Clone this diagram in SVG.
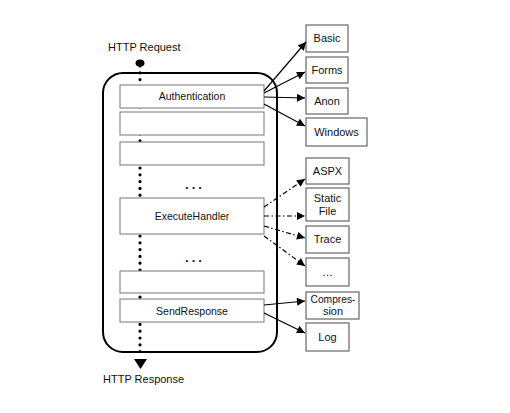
<svg xmlns="http://www.w3.org/2000/svg" width="510" height="413" viewBox="0 0 510 413">
<defs>
<marker id="ah" viewBox="0 0 10 10" refX="10" refY="5" markerWidth="9" markerHeight="8" markerUnits="userSpaceOnUse" orient="auto">
<path d="M0,0 L10,5 L0,10 z" fill="#000"/>
</marker>
<style>
text{font-family:"Liberation Sans",Arial,sans-serif;font-size:10.5px;fill:#111;text-anchor:middle}
.lbl{font-size:11px;text-anchor:start}
.r{font-size:11px}
.ell{font-size:13px;font-weight:bold;letter-spacing:3px}
.box{fill:#fff;stroke:#777;stroke-width:1}
.rbox{fill:#fff;stroke:#666;stroke-width:1.2}
.solid{stroke:#000;stroke-width:1.2;fill:none;marker-end:url(#ah)}
.dash{stroke:#000;stroke-width:1.2;fill:none;stroke-dasharray:5 2.5 1.5 2.5;marker-end:url(#ah)}
</style>
</defs>
<rect width="510" height="413" fill="#fff"/>
<text class="lbl" x="108" y="51">HTTP Request</text>
<text class="lbl" x="103" y="383">HTTP Response</text>
<g id="pipeline">
<rect x="103" y="73" width="174" height="279" rx="20" ry="20" fill="#fff" stroke="#000" stroke-width="2"/>
<line x1="140" y1="66" x2="140" y2="358" stroke="#000" stroke-width="3.2" stroke-linecap="round" stroke-dasharray="0 6.8"/>
<ellipse cx="140" cy="63" rx="4.5" ry="3.5" fill="#000"/>
<path d="M134,359 L147,359 L140.5,369 z" fill="#000"/>
</g>
<g id="authentication"><rect class="box" x="120" y="85" width="144" height="23"/><text x="192" y="100">Authentication</text></g>
<g id="step2"><rect class="box" x="120" y="112" width="144" height="23"/></g>
<g id="step3"><rect class="box" x="120" y="142" width="144" height="23"/></g>
<text class="ell" x="195" y="189">...</text>
<g id="executehandler"><rect class="box" x="120" y="198" width="144" height="36"/><text x="192" y="220">ExecuteHandler</text></g>
<text class="ell" x="195" y="262">...</text>
<g id="step5"><rect class="box" x="120" y="271" width="144" height="22"/></g>
<g id="sendresponse"><rect class="box" x="120" y="299" width="144" height="23"/><text x="192" y="315">SendResponse</text></g>

<g id="basic"><rect class="rbox" x="306" y="25" width="42" height="27"/><text class="r" x="327" y="42">Basic</text></g>
<g id="forms"><rect class="rbox" x="306" y="57" width="42" height="26"/><text class="r" x="327" y="74">Forms</text></g>
<g id="anon"><rect class="rbox" x="306" y="88" width="42" height="26"/><text class="r" x="327" y="105">Anon</text></g>
<g id="windows"><rect class="rbox" x="306" y="118" width="61" height="28"/><text class="r" x="336.5" y="136">Windows</text></g>
<g id="aspx"><rect class="rbox" x="306" y="158" width="43" height="26"/><text class="r" x="327.5" y="175">ASPX</text></g>
<g id="staticfile"><rect class="rbox" x="306" y="188" width="43" height="33"/><text class="r" x="327.5" y="202">Static</text><text class="r" x="327.5" y="215">File</text></g>
<g id="trace"><rect class="rbox" x="306" y="226" width="43" height="27"/><text class="r" x="327.5" y="243">Trace</text></g>
<g id="more"><rect class="rbox" x="306" y="258" width="43" height="28"/><text class="r" x="327.5" y="276">…</text></g>
<g id="compression"><rect class="rbox" x="306" y="292" width="53" height="27"/><text class="r" x="333" y="303" textLength="45" lengthAdjust="spacingAndGlyphs">Compres-</text><text class="r" x="333" y="315">sion</text></g>
<g id="log"><rect class="rbox" x="306" y="323" width="43" height="28"/><text class="r" x="327.5" y="341">Log</text></g>

<g id="connectors">
<line class="solid" x1="264" y1="91" x2="306" y2="42"/>
<line class="solid" x1="264" y1="93" x2="305" y2="72"/>
<line class="solid" x1="264" y1="97" x2="305" y2="98"/>
<line class="solid" x1="264" y1="104" x2="305" y2="126"/>
<line class="dash" x1="264" y1="207" x2="305" y2="179"/>
<line class="dash" x1="264" y1="216" x2="305" y2="216"/>
<line class="dash" x1="264" y1="226" x2="305" y2="238"/>
<line class="dash" x1="264" y1="236" x2="305" y2="266"/>
<line class="solid" x1="264" y1="305" x2="305" y2="301"/>
<line class="solid" x1="264" y1="313" x2="305" y2="333"/>
</g>
</svg>
